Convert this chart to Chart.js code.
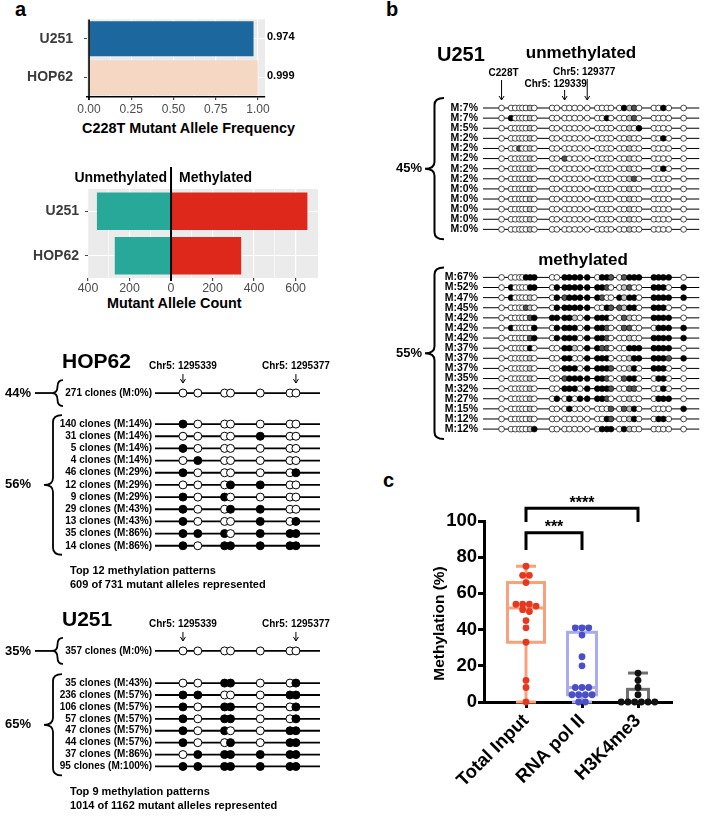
<!DOCTYPE html>
<html>
<head>
<meta charset="utf-8">
<title>TERT promoter methylation</title>
<script src="https://cdn.jsdelivr.net/npm/chart.js@4.4.1/dist/chart.umd.min.js"></script>
<style>
  html, body { margin: 0; padding: 0; background: #fff; }
  body { position: relative; width: 704px; height: 822px; overflow: hidden; font-family: "Liberation Sans", Arial, sans-serif; }
  canvas { position: absolute; }
  .t { position: absolute; font-weight: bold; line-height: 1; white-space: nowrap; color: #000; }
</style>
</head>
<body>
<div class="t" style="left:15px;top:-1px;font-size:20px">a</div>
<div class="t" style="left:386px;top:-1px;font-size:20px">b</div>
<div class="t" style="left:383px;top:470px;font-size:20px">c</div>
<div class="t" style="left:82px;top:121px;font-size:14.4px">C228T Mutant Allele Frequency</div>
<div class="t" style="left:107px;top:296px;font-size:14.4px">Mutant Allele Count</div>
<canvas id="freq" width="340" height="140" style="left:0;top:0"></canvas>
<canvas id="count" width="340" height="165" style="left:0;top:150px"></canvas>
<canvas id="hop" width="340" height="260" style="left:0;top:340px"></canvas>
<canvas id="u251a" width="340" height="222" style="left:0;top:600px"></canvas>
<canvas id="u251b" width="344" height="410" style="left:360px;top:40px"></canvas>
<canvas id="chip" width="344" height="382" style="left:360px;top:440px"></canvas>
<script>
const FAM = '"Liberation Sans", Arial, sans-serif';
Chart.defaults.font.family = FAM;
Chart.defaults.color = '#000';

// ---- panel a: C228T frequency + allele counts
const cellLines = ['U251', 'HOP62'];
const mutantFreq = [0.974, 0.999];
const freqTicks = [0, 0.25, 0.5, 0.75, 1];
const unmethylatedCount = [357, 271];
const methylatedCount = [657, 338];
const countTicks = [-400, -200, 0, 200, 400, 600];

// ---- panel a: amplicon methylation patterns (7 CpGs); o = unmethylated, x = methylated
const ampliconSites = [1295339, 1295344, 1295353, 1295355, 1295365, 1295375, 1295377];
const hopClones = [271, 140, 31, 5, 4, 46, 12, 9, 29, 13, 35, 14];
const hopMeth = [0, 14, 14, 14, 14, 29, 29, 29, 43, 43, 86, 86];
const hopPatterns = ['ooooooo', 'xoooooo', 'ooooxoo', 'xoooooo', 'oxooooo', 'xooooox',
  'oooxxoo', 'xoxoooo', 'xooxxoo', 'xoooxox', 'xxxoxxx', 'xoxxxxx'];
const hopGroups = [1, 11];
const hopGroupPct = ['44%', '56%'];
const u251Clones = [357, 35, 236, 106, 57, 47, 44, 37, 95];
const u251Meth = [0, 43, 57, 57, 57, 57, 57, 86, 100];
const u251Patterns = ['ooooooo', 'ooxxoox', 'xxoooxx', 'xoxxoox', 'xoxxoox', 'xoxooxx',
  'xooxoxx', 'oxxxxxx', 'xxxxxxx'];
const u251Groups = [1, 8];
const u251GroupPct = ['35%', '65%'];

// ---- panel b: long amplicon (29 CpGs); h = partial, g = grey
const bSites = [1295233, 1295249, 1295256, 1295263, 1295268, 1295274, 1295281, 1295288,
  1295318, 1295326, 1295339, 1295347, 1295356, 1295365, 1295377, 1295394, 1295402,
  1295410, 1295417, 1295431, 1295439, 1295448, 1295456, 1295464, 1295489, 1295497,
  1295505, 1295514, 1295539];
const bUnmethPct = [7, 7, 5, 2, 2, 2, 2, 2, 0, 0, 0, 0, 0];
const bUnmethPatterns = [
  'o ooooogo oo ooooo oooo oxgho ooxo o',
  'o xoooogo oo ooooo ooxo oogho oooo o',
  'o ooooogo oo ooooo oooo oogox oooo o',
  'o ooooogo oo ooooo oooo oogoo ooxo o',
  'o oohoogo oo ooooo oooo oogoo oooo o',
  'o ooooogo oo hoooo oooo oogoo oooo o',
  'o ooooogo oo ooooo oooo oogoo ooxo o',
  'o ooooogo oo ooooo oooo oogho oooo o',
  'o ooooogo oo ooooo oooo oogoo oooo o',
  'o ooooogo oo ooooo oooo oogoo oooo o',
  'o ooooogo oo ooooo oooo oogoo oooo o',
  'o ooooogo oo ooooo oooo oogoo oooo o',
  'o ooooogo oo ooooo oooo oogoo oooo o'
];
const bMethPct = [67, 52, 47, 45, 42, 42, 42, 37, 37, 37, 35, 32, 27, 15, 12, 12];
const bMethPatterns = [
  'o ooooxxx oo xxxxx oxxh ohxxx xxxx o',
  'o xooooxx ox xxxxx xxho oghoo xxxo x',
  'o xoooogo ox hxxxx xhoo xgxxo xxxx x',
  'o oooohgo ox xxxxx ooxh hgxxo xxxo o',
  'o ooooohx xx xxgox xxxo ohgoo xxxx o',
  'o xooooox ox xxxox xxho ohhoo oxxx x',
  'o ooooohx ox xxxox xxho oogoo xxxx x',
  'o oooooxo oo xxgox xhho ooxxx xxxx o',
  'o ooooogo oo xxoox xxxo oogxx xxxh x',
  'o ooooogo oo xxxox xxxh oogxo xxxo o',
  'o ooooogo oo hxxxx xxho ohxxo oxxo o',
  'o ooooogo oo xxxox xxxh oohho ooxo o',
  'o ooooogo ox oxoxx xxho oogoo oxxx o',
  'o ooooogo oo oxooo oooh ohgxo oooo x',
  'o ooooogo oo ooooo ooxh oogxo oxxo o',
  'o ooooogx oo ooooo oxxx oxgoo oooo o'
];

// ---- panel c: ChIP methylation
const chipGroups = ['Total Input', 'RNA pol II', 'H3K4me3'];
const totalInput = [75, 70, 70, 66, 54, 54, 54, 53, 51, 50, 45, 41, 33, 12, 8, 0];
const rnaPolII = [41, 41, 41, 37, 25, 20, 8, 8, 8, 4, 4, 4, 4, 0, 0];
const h3k4me3 = [16, 12, 8, 4, 0, 0, 0, 0, 0, 0];
const boxMin = [0, 0, 0];
const boxQ1 = [33, 4, 0];
const boxMedian = [52, 8, 0];
const boxQ3 = [66, 38.5, 7];
const boxMax = [75, 41.5, 16];
const methTicks = [0, 20, 40, 60, 80, 100];
const sigFrom = [0, 0];
const sigTo = [1, 2];
const sigHeight = [93.5, 107];
const sigLeg = [84, 99.5];
const sigText = ['***', '****'];

// ---------- helpers
function text(ctx, s, x, y, font, align) {
  ctx.save();
  ctx.font = font + ' ' + FAM;
  ctx.textAlign = align || 'left';
  ctx.textBaseline = 'middle';
  ctx.fillStyle = '#000';
  ctx.fillText(s, x, y);
  ctx.restore();
}
function seg(ctx, x1, y1, x2, y2, lw, color) {
  ctx.save();
  ctx.strokeStyle = color || '#000';
  ctx.lineWidth = lw;
  ctx.beginPath(); ctx.moveTo(x1, y1); ctx.lineTo(x2, y2); ctx.stroke();
  ctx.restore();
}
function arrow(ctx, x, y1, y2) {
  ctx.save();
  ctx.strokeStyle = '#000'; ctx.lineWidth = 1;
  ctx.beginPath(); ctx.moveTo(x, y1); ctx.lineTo(x, y2); ctx.stroke();
  ctx.beginPath(); ctx.moveTo(x - 2.5, y2 - 4); ctx.lineTo(x, y2); ctx.lineTo(x + 2.5, y2 - 4); ctx.stroke();
  ctx.restore();
}
function brace(ctx, xTip, xEnd, y1, y2, ym, lw) {
  const xs = (xTip + xEnd) / 2;
  const r1 = Math.min(7, (ym - y1) / 2), r2 = Math.min(7, (y2 - ym) / 2);
  ctx.save();
  ctx.strokeStyle = '#000'; ctx.lineWidth = lw || 1.8;
  ctx.beginPath();
  ctx.moveTo(xEnd, y1);
  ctx.quadraticCurveTo(xs, y1, xs, y1 + r1);
  ctx.lineTo(xs, ym - r1);
  ctx.quadraticCurveTo(xs, ym, xTip, ym);
  ctx.quadraticCurveTo(xs, ym, xs, ym + r2);
  ctx.lineTo(xs, y2 - r2);
  ctx.quadraticCurveTo(xs, y2, xEnd, y2);
  ctx.stroke();
  ctx.restore();
}
function rowPositions(groups, gap) {
  const ys = [];
  let idx = 0;
  groups.forEach((n, g) => { for (let k = 0; k < n; k++) { ys.push(idx + g * gap); idx++; } });
  return ys;
}
const stateColor = { o: '#ffffff', x: '#000000', h: '#555555', g: '#c4c4c4' };

const panelBg = {
  id: 'panelBg',
  beforeDraw(chart) {
    const { ctx, chartArea: a } = chart;
    ctx.save(); ctx.fillStyle = '#ebebeb';
    ctx.fillRect(a.left, a.top, a.width, a.height);
    ctx.restore();
  }
};
const noise = { legend: { display: false }, tooltip: { enabled: false } };

// ---------- panel a, frequency bars
const freqMinor = freqTicks.slice(1).map((v, i) => (v + freqTicks[i]) / 2);
new Chart(document.getElementById('freq'), {
  type: 'bar',
  data: {
    labels: cellLines,
    datasets: [{ data: mutantFreq, backgroundColor: ['#1c679d', '#f4d8c4'], barPercentage: 0.9, categoryPercentage: 1 }]
  },
  options: {
    indexAxis: 'y', responsive: false, animation: false, events: [],
    layout: { padding: { top: 15, right: 75, left: 0, bottom: 0 } },
    plugins: noise,
    scales: {
      x: {
        min: -0.012, max: 1.042,
        afterBuildTicks: s => { s.ticks = freqTicks.concat(freqMinor).sort((a, b) => a - b).map(v => ({ value: v })); },
        afterFit: s => { s.height = 43; },
        ticks: { autoSkip: false, maxRotation: 0, padding: 2, color: '#4d4d4d', font: { size: 12 },
          callback: v => freqTicks.includes(v) ? v.toFixed(2) : '' },
        grid: { color: '#fff', lineWidth: c => freqTicks.includes(c.tick.value) ? 1.2 : 0.6,
          tickColor: c => freqTicks.includes(c.tick.value) ? '#444' : 'rgba(0,0,0,0)', tickLength: 3 },
        border: { display: true, color: '#000', width: 1.6 }
      },
      y: {
        afterFit: s => { s.width = 87; },
        ticks: { padding: 11, color: '#3c3c3c', font: { size: 14, weight: 'bold' } },
        grid: { offset: false, color: '#fff', tickColor: '#444', tickLength: 3 },
        border: { display: false }
      }
    }
  },
  plugins: [panelBg, {
    id: 'freqDeco',
    afterDatasetsDraw(chart) {
      const { ctx, chartArea: a, scales: { x, y } } = chart;
      const x0 = x.getPixelForValue(0);
      seg(ctx, x0, a.top, x0, a.bottom + 3, 1.6);
      mutantFreq.forEach((v, i) => text(ctx, v.toFixed(3), a.right + 2, y.getPixelForValue(i) - 2, 'bold 11px', 'left'));
    }
  }]
});

// ---------- panel a, allele counts (diverging)
const countMinor = countTicks.slice(1).map((v, i) => (v + countTicks[i]) / 2);
new Chart(document.getElementById('count'), {
  type: 'bar',
  data: {
    labels: cellLines,
    datasets: [
      { label: 'Unmethylated', data: unmethylatedCount.map(v => -v), backgroundColor: '#27a898', barPercentage: 0.84, categoryPercentage: 1 },
      { label: 'Methylated', data: methylatedCount, backgroundColor: '#df281c', barPercentage: 0.84, categoryPercentage: 1 }
    ]
  },
  options: {
    indexAxis: 'y', responsive: false, animation: false, events: [],
    layout: { padding: { top: 39, right: 22, left: 0, bottom: 0 } },
    plugins: noise,
    scales: {
      x: {
        stacked: true, min: -400, max: 708,
        afterBuildTicks: s => { s.ticks = countTicks.concat(countMinor).sort((a, b) => a - b).map(v => ({ value: v })); },
        afterFit: s => { s.height = 37; },
        ticks: { autoSkip: false, maxRotation: 0, padding: 0, color: '#4d4d4d', font: { size: 12.4 },
          callback: v => countTicks.includes(v) ? String(Math.abs(v)) : '' },
        grid: { color: '#fff', lineWidth: c => countTicks.includes(c.tick.value) ? 1.2 : 0.6,
          tickColor: c => countTicks.includes(c.tick.value) ? '#444' : 'rgba(0,0,0,0)', tickLength: 3 },
        border: { display: false }
      },
      y: {
        stacked: true,
        afterFit: s => { s.width = 88; },
        ticks: { padding: 6, color: '#3c3c3c', font: { size: 14, weight: 'bold' } },
        grid: { offset: false, color: '#fff', tickColor: '#444', tickLength: 3 },
        border: { display: false }
      }
    }
  },
  plugins: [panelBg, {
    id: 'countDeco',
    afterDatasetsDraw(chart) {
      const { ctx, chartArea: a, scales: { x } } = chart;
      const x0 = x.getPixelForValue(0);
      seg(ctx, x0, a.top - 22, x0, a.bottom + 3, 2);
      text(ctx, 'Unmethylated', x0 - 4, a.top - 11, 'bold 14px', 'right');
      text(ctx, 'Methylated', x0 + 8, a.top - 11, 'bold 14px', 'left');
    }
  }]
});

// ---------- lollipop builder
function lollipop(id, o) {
  const rowsY = rowPositions(o.groups, o.gap);
  const datasets = o.patterns.map((p, r) => {
    const states = p.replace(/ /g, '').split('');
    return {
      data: o.sites.map(s => ({ x: s, y: rowsY[r] })),
      pointBackgroundColor: states.map(c => stateColor[c]),
      pointBorderColor: '#000', pointBorderWidth: o.border, pointRadius: o.radius, showLine: false
    };
  });
  return new Chart(document.getElementById(id), {
    type: 'scatter',
    data: { datasets },
    options: {
      responsive: false, animation: false, events: [],
      layout: { padding: o.padding },
      plugins: noise,
      scales: {
        x: { type: 'linear', display: false, min: o.xMin, max: o.xMax },
        y: {
          type: 'linear', reverse: true, min: o.yMin, max: o.yMax,
          afterBuildTicks: s => { s.ticks = rowsY.map(v => ({ value: v })); },
          afterFit: s => { s.width = o.axisWidth; },
          ticks: { autoSkip: false, padding: o.labelPad, color: '#000', font: { size: o.labelSize, weight: 'bold' },
            callback: (v, i) => o.labels[i] },
          grid: { display: false, drawTicks: false },
          border: { display: false }
        }
      }
    },
    plugins: [{
      id: 'rows',
      beforeDatasetsDraw(chart) {
        const { chartArea: a, scales: { y } } = chart;
        rowsY.forEach(v => { const py = y.getPixelForValue(v); seg(chart.ctx, a.left, py, a.right, py, o.lineWidth); });
      },
      afterDraw(chart) { o.decorate(chart, rowsY); }
    }]
  });
}

function ampliconDeco(title, groups, pcts, notes) {
  return (chart, rowsY) => {
    const { ctx, scales: { x, y } } = chart;
    const y0 = y.getPixelForValue(rowsY[0]);
    const yEnd = y.getPixelForValue(rowsY[rowsY.length - 1]);
    const xa = x.getPixelForValue(ampliconSites[0]);
    const xb = x.getPixelForValue(ampliconSites[ampliconSites.length - 1]);
    text(ctx, title, 62, y0 - 31, 'bold 21px', 'left');
    text(ctx, 'Chr5: ' + ampliconSites[0], xa, y0 - 27, 'bold 10px', 'center');
    text(ctx, 'Chr5: ' + ampliconSites[ampliconSites.length - 1], xb, y0 - 27, 'bold 10px', 'center');
    arrow(ctx, xa, y0 - 19, y0 - 10);
    arrow(ctx, xb, y0 - 19, y0 - 10);
    notes.forEach((s, i) => text(ctx, s, 70, yEnd + 25 + 14 * i, 'bold 11px', 'left'));
    let start = 0;
    groups.forEach((n, g) => {
      const top = y.getPixelForValue(rowsY[start]);
      const bot = y.getPixelForValue(rowsY[start + n - 1]);
      const mid = (top + bot) / 2;
      if (n === 1) {
        brace(ctx, 52, 63, top - 13, bot + 13, mid);
        seg(ctx, 35, mid, 52, mid, 1.8);
      } else {
        brace(ctx, 44, 62, top - 9, bot + 9, mid);
      }
      text(ctx, pcts[g], 5, mid, 'bold 13px', 'left');
      start += n;
    });
  };
}

const ampX = { xMin: 1295329.6, xMax: 1295385.1 };
lollipop('hop', Object.assign({
  sites: ampliconSites, patterns: hopPatterns, groups: hopGroups, gap: 1.55,
  labels: hopClones.map((c, i) => c + ' clones (M:' + hopMeth[i] + '%)'),
  yMin: -0.8, yMax: 13.35, padding: { top: 43.3, bottom: 44.5, left: 0, right: 20 },
  axisWidth: 155, labelPad: 3, labelSize: 10, radius: 4, border: 1, lineWidth: 1.8,
  decorate: ampliconDeco('HOP62', hopGroups, hopGroupPct,
    ['Top 12 methylation patterns', '609 of 731 mutant alleles represented'])
}, ampX));

lollipop('u251a', Object.assign({
  sites: ampliconSites, patterns: u251Patterns, groups: u251Groups, gap: 1.7,
  labels: u251Clones.map((c, i) => c + ' clones (M:' + u251Meth[i] + '%)'),
  yMin: -0.8, yMax: 10.5, padding: { top: 41.4, bottom: 46, left: 0, right: 20 },
  axisWidth: 155, labelPad: 3, labelSize: 10, radius: 4, border: 1, lineWidth: 1.8,
  decorate: ampliconDeco('U251', u251Groups, u251GroupPct,
    ['Top 9 methylation patterns', '1014 of 1162 mutant alleles represented'])
}, ampX));

// ---------- panel b
const bGroups = [bUnmethPatterns.length, bMethPatterns.length];
lollipop('u251b', {
  sites: bSites, patterns: bUnmethPatterns.concat(bMethPatterns), groups: bGroups, gap: 3.75,
  labels: bUnmethPct.concat(bMethPct).map(v => 'M:' + v + '%'),
  xMin: 1295201.8, xMax: 1295565.4, yMin: -1, yMax: 32.7,
  padding: { top: 57.9, bottom: 10, left: 0, right: 1 },
  axisWidth: 123, labelPad: 5, labelSize: 10.5, radius: 2.9, border: 0.7, lineWidth: 1,
  decorate(chart, rowsY) {
    const { ctx, scales: { x, y } } = chart;
    text(ctx, 'U251', 77, 15, 'bold 20px', 'left');
    text(ctx, 'unmethylated', 221, 13, 'bold 17px', 'center');
    const xc = x.getPixelForValue(bSites[0]);
    const x10 = x.getPixelForValue(bSites[10]);
    const x14 = x.getPixelForValue(bSites[14]);
    text(ctx, 'C228T', xc + 2, 33, 'bold 10px', 'center');
    text(ctx, 'Chr5: 129377', x14 - 3, 32, 'bold 10px', 'center');
    text(ctx, 'Chr5: 129339', x10 - 9, 44, 'bold 10px', 'center');
    arrow(ctx, xc, 40, 60);
    arrow(ctx, x14, 39, 60);
    arrow(ctx, x10, 50, 60);
    const first1 = y.getPixelForValue(rowsY[bGroups[0]]);
    text(ctx, 'methylated', 223, first1 - 17, 'bold 17px', 'center');
    let start = 0;
    ['45%', '55%'].forEach((pct, g) => {
      const n = bGroups[g];
      const top = y.getPixelForValue(rowsY[start]);
      const bot = y.getPixelForValue(rowsY[start + n - 1]);
      const mid = (top + bot) / 2;
      brace(ctx, 65, 84, top - 10, bot + 10, mid, 2);
      text(ctx, pct, 62, mid, 'bold 13px', 'right');
      start += n;
    });
  }
});

// ---------- panel c
function swarm(values, center, step) {
  const sorted = values.slice().sort((a, b) => b - a);
  const out = [];
  let i = 0;
  while (i < sorted.length) {
    let j = i;
    while (j < sorted.length && sorted[i] - sorted[j] < 2.5) j++;
    const n = j - i;
    for (let k = 0; k < n; k++) out.push({ x: center + (k - (n - 1) / 2) * step, y: sorted[i + k] });
    i = j;
  }
  return out;
}
const boxColors = ['#f7a27c', '#a9aaf0', '#6f6f6f'];
const pointColors = ['#e5381f', '#4b4fc6', '#111111'];
const boxWidths = [37, 29, 21];
const capWidth = 20;
const chipSeries = [totalInput, rnaPolII, h3k4me3];

new Chart(document.getElementById('chip'), {
  type: 'scatter',
  data: {
    datasets: chipSeries.map((vals, i) => ({
      label: chipGroups[i],
      data: swarm(vals, i + 1, 0.12),
      pointBackgroundColor: pointColors[i], pointBorderWidth: 0, pointRadius: 3.4, clip: false
    }))
  },
  options: {
    responsive: false, animation: false, events: [],
    layout: { padding: { top: 81, right: 32, left: 0, bottom: 0 } },
    plugins: noise,
    scales: {
      x: {
        type: 'linear', min: 0.25, max: 3.607,
        afterBuildTicks: s => { s.ticks = chipGroups.map((g, i) => ({ value: i + 1 })); },
        afterFit: s => { s.height = 120; },
        ticks: { autoSkip: false, minRotation: 45, maxRotation: 45, padding: 2, color: '#000',
          font: { size: 18.5, weight: 'bold' }, callback: (v, i) => chipGroups[i] },
        grid: { drawOnChartArea: false, tickLength: 6, tickWidth: 3, tickColor: '#000', color: '#000' },
        border: { display: true, color: '#000', width: 3 }
      },
      y: {
        min: 0, max: 100,
        afterBuildTicks: s => { s.ticks = methTicks.map(v => ({ value: v })); },
        afterFit: s => { s.width = 124; },
        ticks: { padding: 1, color: '#000', font: { size: 18.5, weight: 'bold' } },
        grid: { drawOnChartArea: false, tickLength: 6, tickWidth: 3, tickColor: '#000', color: '#000' },
        border: { display: true, color: '#000', width: 3 }
      }
    }
  },
  plugins: [{
    id: 'boxes',
    beforeDatasetsDraw(chart) {
      const { ctx, scales: { x, y } } = chart;
      const py = v => y.getPixelForValue(v);
      chipGroups.forEach((g, i) => {
        const cx = x.getPixelForValue(i + 1), hw = boxWidths[i] / 2, cw = capWidth / 2, c = boxColors[i];
        ctx.save();
        ctx.strokeStyle = c; ctx.lineWidth = 3;
        ctx.strokeRect(cx - hw, py(boxQ3[i]), 2 * hw, py(boxQ1[i]) - py(boxQ3[i]));
        ctx.restore();
        seg(ctx, cx - hw, py(boxMedian[i]), cx + hw, py(boxMedian[i]), 3, c);
        seg(ctx, cx, py(boxQ3[i]), cx, py(boxMax[i]), 3, c);
        seg(ctx, cx - cw, py(boxMax[i]), cx + cw, py(boxMax[i]), 3, c);
        seg(ctx, cx, py(boxQ1[i]), cx, py(boxMin[i]), 3, c);
        seg(ctx, cx - cw, py(boxMin[i]), cx + cw, py(boxMin[i]), 3, c);
      });
    },
    afterDraw(chart) {
      const { ctx, scales: { x, y } } = chart;
      sigText.forEach((s, k) => {
        const x1 = x.getPixelForValue(sigFrom[k] + 1), x2 = x.getPixelForValue(sigTo[k] + 1);
        const yt = y.getPixelForValue(sigHeight[k]), yl = y.getPixelForValue(sigLeg[k]);
        ctx.save();
        ctx.strokeStyle = '#000'; ctx.lineWidth = 3;
        ctx.beginPath(); ctx.moveTo(x1, yl); ctx.lineTo(x1, yt); ctx.lineTo(x2, yt); ctx.lineTo(x2, yl); ctx.stroke();
        ctx.restore();
        text(ctx, s, (x1 + x2) / 2, yt - 5, 'bold 16px', 'center');
      });
      ctx.save();
      ctx.translate(80, 183.5);
      ctx.rotate(-Math.PI / 2);
      text(ctx, 'Methylation (%)', 0, 0, 'bold 15.5px', 'center');
      ctx.restore();
    }
  }]
});
</script>
</body>
</html>
